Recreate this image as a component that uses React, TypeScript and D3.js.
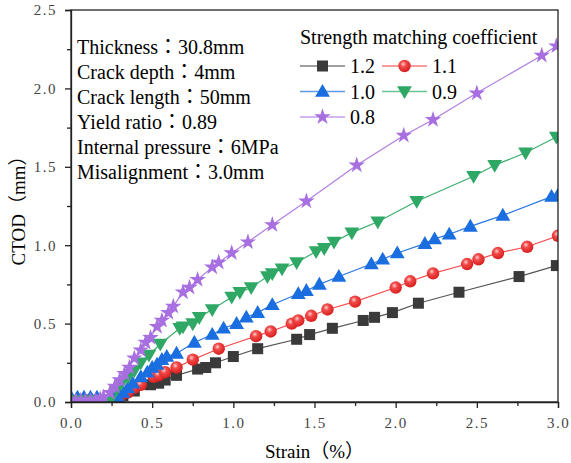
import * as d3 from "d3";
import { useEffect, useRef } from "react";

// strain (%) values and CTOD (mm) for each strength matching coefficient
const s12x = [0, 0.05, 0.1, 0.15, 0.2, 0.24, 0.27, 0.32, 0.39, 0.49, 0.54, 0.58, 0.65, 0.78, 0.83, 0.89, 1.0, 1.15, 1.39, 1.47, 1.61, 1.8, 1.87, 1.98, 2.14, 2.39, 2.76, 2.99];
const s12y = [0.01, 0.01, 0.01, 0.01, 0.01, 0.01, 0.01, 0.04, 0.07, 0.11, 0.12, 0.14, 0.17, 0.21, 0.22, 0.25, 0.29, 0.34, 0.4, 0.43, 0.47, 0.52, 0.54, 0.57, 0.63, 0.7, 0.8, 0.87];

const s11x = [0, 0.05, 0.1, 0.15, 0.2, 0.24, 0.26, 0.3, 0.35, 0.39, 0.43, 0.51, 0.54, 0.58, 0.65, 0.75, 0.91, 1.14, 1.23, 1.36, 1.4, 1.48, 1.58, 1.75, 2.0, 2.09, 2.23, 2.44, 2.51, 2.63, 2.81, 3.0];
const s11y = [0.01, 0.01, 0.01, 0.01, 0.01, 0.01, 0.01, 0.03, 0.06, 0.09, 0.11, 0.16, 0.17, 0.19, 0.22, 0.27, 0.34, 0.42, 0.45, 0.5, 0.52, 0.55, 0.59, 0.64, 0.73, 0.77, 0.82, 0.88, 0.91, 0.95, 0.99, 1.06];

const s10x = [0, 0.04, 0.08, 0.12, 0.16, 0.2, 0.26, 0.29, 0.32, 0.35, 0.38, 0.43, 0.47, 0.5, 0.53, 0.56, 0.59, 0.65, 0.76, 0.87, 0.94, 1.02, 1.08, 1.15, 1.24, 1.4, 1.45, 1.53, 1.65, 1.85, 1.92, 2.01, 2.18, 2.24, 2.33, 2.46, 2.66, 2.96, 3.0];
const s10y = [0.03, 0.03, 0.03, 0.03, 0.03, 0.02, 0.03, 0.03, 0.06, 0.09, 0.12, 0.16, 0.19, 0.22, 0.24, 0.27, 0.29, 0.31, 0.38, 0.43, 0.47, 0.5, 0.54, 0.57, 0.62, 0.69, 0.71, 0.75, 0.8, 0.88, 0.91, 0.95, 1.01, 1.04, 1.07, 1.12, 1.19, 1.31, 1.32];

const s09x = [0, 0.05, 0.1, 0.15, 0.2, 0.24, 0.28, 0.31, 0.35, 0.39, 0.43, 0.48, 0.55, 0.67, 0.69, 0.75, 0.79, 0.87, 0.99, 1.04, 1.11, 1.21, 1.24, 1.3, 1.39, 1.51, 1.56, 1.62, 1.73, 1.89, 2.13, 2.48, 2.61, 2.8, 2.99];
const s09y = [0.01, 0.01, 0.01, 0.01, 0.01, 0.01, 0.08, 0.12, 0.16, 0.2, 0.25, 0.3, 0.37, 0.47, 0.48, 0.5, 0.54, 0.59, 0.67, 0.7, 0.73, 0.8, 0.82, 0.85, 0.89, 0.96, 0.98, 1.02, 1.08, 1.15, 1.28, 1.44, 1.51, 1.59, 1.69];

const s08x = [0, 0.03, 0.06, 0.09, 0.12, 0.15, 0.18, 0.2, 0.24, 0.27, 0.3, 0.33, 0.36, 0.39, 0.43, 0.46, 0.49, 0.53, 0.56, 0.6, 0.63, 0.69, 0.73, 0.78, 0.87, 0.91, 0.99, 1.09, 1.24, 1.45, 1.76, 2.05, 2.23, 2.5, 2.9, 2.99];
const s08y = [0.01, 0.01, 0.01, 0.01, 0.01, 0.01, 0.02, 0.03, 0.06, 0.1, 0.14, 0.18, 0.22, 0.28, 0.33, 0.38, 0.41, 0.48, 0.52, 0.57, 0.61, 0.7, 0.73, 0.78, 0.86, 0.89, 0.95, 1.02, 1.13, 1.28, 1.51, 1.7, 1.8, 1.97, 2.21, 2.27];

const seriesNames = ["1.2", "1.1", "1.0", "0.9", "0.8"];
const seriesX = [s12x, s11x, s10x, s09x, s08x];
const seriesY = [s12y, s11y, s10y, s09y, s08y];
const colors = ["#3a3a3a", "#f03a3a", "#1a6ee0", "#2fa866", "#a86fe0"];
const lineColors = ["#555555", "#f25050", "#2a78e0", "#3aae6e", "#b07fe2"];

const xTicks = [0, 0.5, 1.0, 1.5, 2.0, 2.5, 3.0];
const yTicks = [0, 0.5, 1.0, 1.5, 2.0, 2.5];

const notes = [
  "Thickness：30.8mm",
  "Crack depth：4mm",
  "Crack length：50mm",
  "Yield ratio：0.89",
  "Internal pressure：6MPa",
  "Misalignment：3.0mm",
];

const W = 571;
const H = 463;
const margin = { top: 10, right: 13, bottom: 61, left: 71 };
const serif = "'Liberation Serif', 'Times New Roman', 'Noto Sans CJK JP', serif";

const drawMarker = (g, i, x, y) => {
  if (i === 0) {
    g.append("rect")
      .attr("x", x - 5.5).attr("y", y - 5.5)
      .attr("width", 11).attr("height", 11)
      .attr("fill", colors[0]);
  } else if (i === 1) {
    g.append("circle")
      .attr("cx", x).attr("cy", y).attr("r", 6.2)
      .attr("fill", "url(#ballGrad)");
  } else if (i === 2) {
    g.append("path")
      .attr("d", d3.symbol(d3.symbolTriangle, 95)())
      .attr("transform", `translate(${x},${y + 1})`)
      .attr("fill", colors[2]);
  } else if (i === 3) {
    g.append("path")
      .attr("d", d3.symbol(d3.symbolTriangle, 95)())
      .attr("transform", `translate(${x},${y - 1}) rotate(180)`)
      .attr("fill", colors[3]);
  } else {
    g.append("path")
      .attr("d", d3.symbol(d3.symbolStar, 85)())
      .attr("transform", `translate(${x},${y})`)
      .attr("fill", colors[4]);
  }
};

const ChartDraw = () => {
  const chartRef = useRef(null);

  useEffect(() => {
    document.body.style.margin = "0";
    const svg = d3.select(chartRef.current);
    svg.selectAll("*").remove();

    const boundsWidth = W - margin.left - margin.right;
    const boundsHeight = H - margin.top - margin.bottom;

    const scaleX = d3.scaleLinear().domain([0, 3]).range([0, boundsWidth]);
    const scaleY = d3.scaleLinear().domain([0, 2.5]).range([boundsHeight, 0]);

    const defs = svg.append("defs");
    const grad = defs.append("radialGradient")
      .attr("id", "ballGrad")
      .attr("cx", "0.4").attr("cy", "0.35").attr("r", "0.65");
    grad.append("stop").attr("offset", "0").attr("stop-color", "#ffd0d0");
    grad.append("stop").attr("offset", "0.35").attr("stop-color", "#f24a4a");
    grad.append("stop").attr("offset", "1").attr("stop-color", "#d81e1e");
    defs.append("clipPath").attr("id", "plotClip")
      .append("rect").attr("x", 0).attr("y", 0)
      .attr("width", boundsWidth).attr("height", boundsHeight);

    const g = svg.append("g").attr("transform", `translate(${margin.left}, ${margin.top})`);

    // series
    const plot = g.append("g").attr("clip-path", "url(#plotClip)");
    seriesX.forEach((xs, i) => {
      const pts = xs.map((x, j) => [x, seriesY[i][j]]);
      const line = d3.line().x(d => scaleX(d[0])).y(d => scaleY(d[1]));
      plot.append("path")
        .attr("d", line(pts))
        .attr("fill", "none")
        .attr("stroke", lineColors[i])
        .attr("stroke-width", 1.2);
    });
    seriesX.forEach((xs, i) => {
      const mg = plot.append("g");
      xs.forEach((x, j) => drawMarker(mg, i, scaleX(x), scaleY(seriesY[i][j])));
    });

    // frame
    g.append("rect")
      .attr("x", 0).attr("y", 0)
      .attr("width", boundsWidth).attr("height", boundsHeight)
      .attr("fill", "none").attr("stroke", "#222").attr("stroke-width", 1.3);

    // axes
    const fmt = d => d3.format(".1f")(d);
    const xAxis = g.append("g")
      .attr("transform", `translate(0, ${boundsHeight})`)
      .call(d3.axisBottom(scaleX).tickValues(xTicks).tickFormat(fmt).tickSize(6).tickPadding(9));
    g.append("g")
      .attr("transform", `translate(0, ${boundsHeight})`)
      .call(d3.axisBottom(scaleX).tickValues(d3.range(0.25, 3, 0.5)).tickFormat("").tickSize(4))
      .call(a => a.select(".domain").remove());
    const yAxis = g.append("g")
      .call(d3.axisLeft(scaleY).tickValues(yTicks).tickFormat(fmt).tickSize(6).tickPadding(8));
    g.append("g")
      .call(d3.axisLeft(scaleY).tickValues(d3.range(0.25, 2.5, 0.5)).tickFormat("").tickSize(4))
      .call(a => a.select(".domain").remove());

    [xAxis, yAxis].forEach(a => {
      a.attr("font-family", null);
      a.selectAll("text")
        .attr("font-family", serif)
        .attr("font-size", 15)
        .style("letter-spacing", "1.5px")
        .attr("fill", "#444");
      a.select(".domain").attr("stroke", "#222").attr("stroke-width", 1.3);
    });
    g.selectAll(".tick line").attr("stroke", "#222").attr("stroke-width", 1.3);

    // axis titles
    svg.append("text")
      .attr("x", margin.left + boundsWidth / 2)
      .attr("y", 458)
      .attr("text-anchor", "middle")
      .style("font-family", serif)
      .style("font-size", "19px")
      .text("Strain（%）");
    svg.append("text")
      .attr("transform", `translate(25, ${margin.top + boundsHeight / 2}) rotate(-90)`)
      .attr("text-anchor", "middle")
      .style("font-family", serif)
      .style("font-size", "19px")
      .text("CTOD（mm）");

    // notes
    notes.forEach((t, i) => {
      svg.append("text")
        .attr("x", 77)
        .attr("y", 54 + i * 25)
        .style("font-family", serif)
        .style("font-size", "20px")
        .text(t);
    });

    // legend
    const leg = svg.append("g");
    leg.append("text")
      .attr("x", 300).attr("y", 44)
      .style("font-family", serif)
      .style("font-size", "20px")
      .text("Strength matching coefficient");
    seriesNames.forEach((name, i) => {
      const col = i % 2;
      const row = Math.floor(i / 2);
      const lx = 300 + col * 82;
      const ly = 66 + row * 25.5;
      leg.append("line")
        .attr("x1", lx).attr("x2", lx + 45)
        .attr("y1", ly).attr("y2", ly)
        .attr("stroke", lineColors[i]).attr("stroke-opacity", 0.75)
        .attr("stroke-width", 1.6);
      drawMarker(leg, i, lx + 22.5, ly);
      leg.append("text")
        .attr("x", lx + 50).attr("y", ly + 7)
        .style("font-family", serif)
        .style("font-size", "20px")
        .text(name);
    });
  }, []);

  return <svg ref={chartRef} width={W} height={H} style={{ display: "block", background: "#fff" }}></svg>;
};

export default function App() {
  return <ChartDraw />;
}
